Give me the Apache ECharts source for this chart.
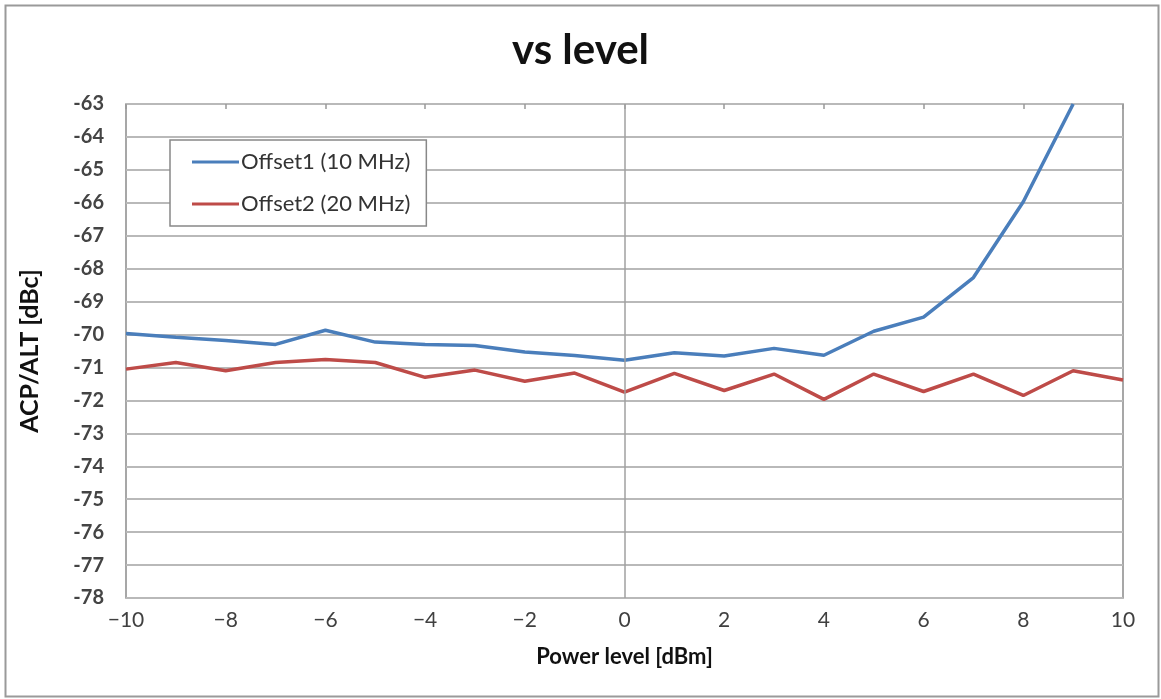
<!DOCTYPE html>
<html>
<head>
<meta charset="utf-8">
<script src="https://cdn.jsdelivr.net/npm/echarts@6/dist/echarts.min.js"></script>
<style>
html,body{margin:0;padding:0;background:#fff;}
#c{width:1161px;height:699px;}
</style>
</head>
<body>
<div id="c"></div>
<script>
const powerLevels = [-10,-9,-8,-7,-6,-5,-4,-3,-2,-1,0,1,2,3,4,5,6,7,8,9,10];
const offset1 = [-69.97,-70.08,-70.18,-70.30,-69.87,-70.23,-70.30,-70.33,-70.53,-70.64,-70.78,-70.55,-70.65,-70.42,-70.63,-69.90,-69.47,-68.27,-65.97,-63.00,null];
const offset2 = [-71.05,-70.85,-71.10,-70.85,-70.76,-70.85,-71.30,-71.08,-71.42,-71.17,-71.75,-71.18,-71.70,-71.20,-71.97,-71.20,-71.73,-71.20,-71.85,-71.10,-71.38];
const seriesNames = ['Offset1 (10 MHz)','Offset2 (20 MHz)'];
const titleText = 'vs level';
const yName = 'ACP/ALT [dBc]';
const xName = 'Power level [dBm]';

const pairs = arr => powerLevels.map((x,i) => [x, arr[i]]);
const chart = echarts.init(document.getElementById('c'));
const font = 'Lato, "Open Sans", sans-serif';
chart.setOption({
  backgroundColor: '#fff',
  animation: false,
  title: {
    text: titleText, left: 'center', top: 24,
    textStyle: {fontFamily: font, fontSize: 42, fontWeight: 'bold', color: '#111'}
  },
  graphic: [{
    type: 'rect', left: 3, top: 3, shape: {width: 1153, height: 691},
    style: {fill: 'none', stroke: '#9a9a9a', lineWidth: 2}, silent: true
  }],
  legend: {
    orient: 'vertical', left: 170, top: 140,
    padding: [11, 16, 11, 22], itemGap: 20,
    backgroundColor: '#fff', borderColor: '#888', borderWidth: 1.5,
    icon: 'rect', itemWidth: 47, itemHeight: 3,
    textStyle: {fontFamily: font, fontSize: 22, color: '#333', padding: [0,0,0,-3]},
    data: seriesNames
  },
  grid: {
    left: 126, right: 38, top: 104, bottom: 101,
    show: true, borderColor: '#8a8a8a', borderWidth: 1.5, backgroundColor: '#fff'
  },
  xAxis: [{
    type: 'value', min: -10, max: 10, interval: 2, position: 'bottom',
    name: xName, nameLocation: 'middle', nameGap: 48,
    nameTextStyle: {fontFamily: font, fontSize: 22, fontWeight: 'bold', color: '#111'},
    axisLine: {show: false}, axisTick: {show: false}, splitLine: {show: false},
    axisLabel: {fontFamily: font, fontSize: 21, color: '#404040', margin: 12,
      formatter: v => (v < 0 ? '\u2212' + Math.abs(v) : String(v))}
  }, {
    type: 'value', min: -10, max: 10, interval: 2, position: 'top',
    axisLine: {show: false}, axisLabel: {show: false}, splitLine: {show: false},
    axisTick: {show: true, inside: true, length: 5, lineStyle: {color: '#999', width: 1.5}}
  }],
  yAxis: {
    type: 'value', min: -78, max: -63, interval: 1,
    name: yName, nameLocation: 'middle', nameGap: 84, nameRotate: 90,
    nameTextStyle: {fontFamily: font, fontSize: 25, fontWeight: 'bold', color: '#111'},
    axisLine: {show: false}, axisTick: {show: false},
    splitLine: {lineStyle: {color: '#b9b9b9', width: 2}},
    axisLabel: {fontFamily: font, fontSize: 20, fontWeight: 'bold', color: '#444', margin: 22}
  },
  series: [{
    name: seriesNames[0], type: 'line', data: pairs(offset1),
    showSymbol: false, symbol: 'none', clip: true,
    lineStyle: {color: '#4a7ebb', width: 3.5}, itemStyle: {color: '#4a7ebb'},
    markLine: {
      silent: true, symbol: 'none', label: {show: false},
      lineStyle: {color: '#a0a0a0', width: 1.5, type: 'solid'},
      data: [{xAxis: 0}]
    },
    z: 3
  }, {
    name: seriesNames[1], type: 'line', data: pairs(offset2),
    showSymbol: false, symbol: 'none', clip: true,
    lineStyle: {color: '#be4b48', width: 3.5}, itemStyle: {color: '#be4b48'},
    z: 3
  }]
});
</script>
</body>
</html>
